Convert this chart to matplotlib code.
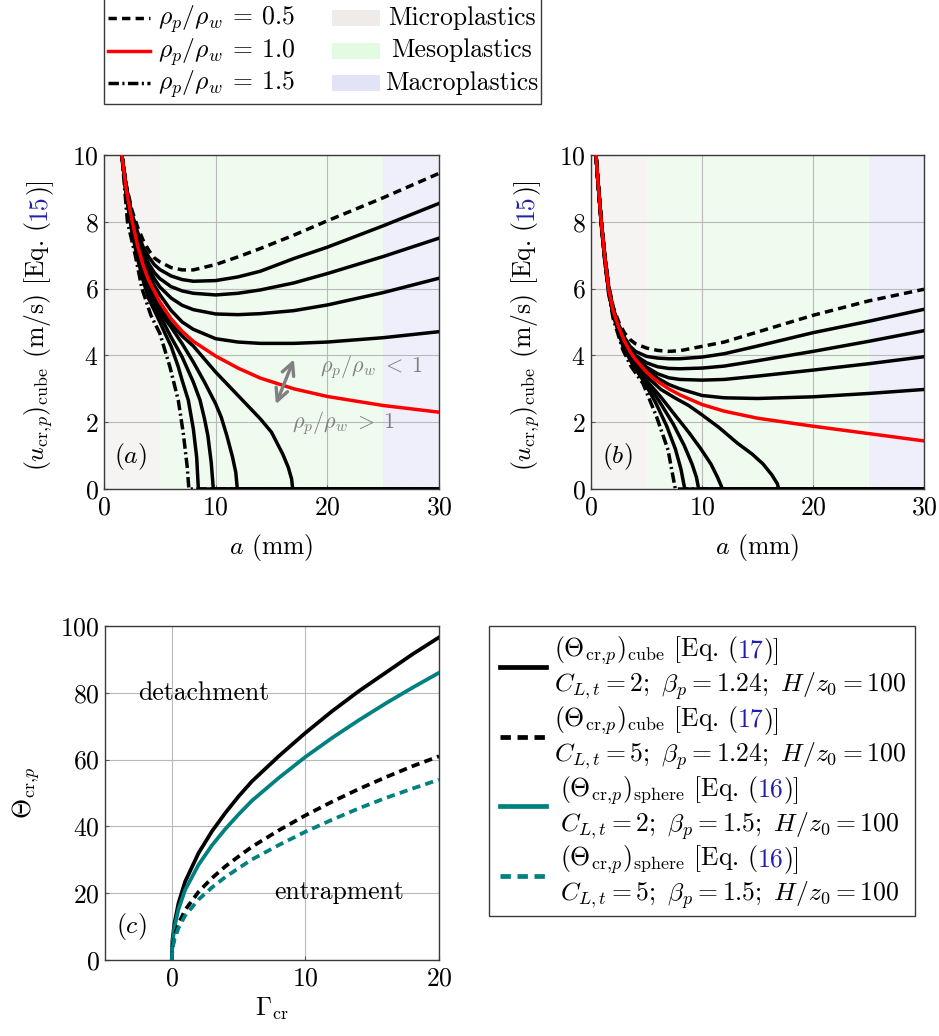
import matplotlib
matplotlib.use("Agg")
import matplotlib.pyplot as plt
from matplotlib.lines import Line2D
from matplotlib.patches import Rectangle

plt.rcParams.update({
    "font.family": "serif",
    "font.serif": ["cmr10"],
    "mathtext.fontset": "cm",
    "axes.formatter.use_mathtext": True,
    "axes.unicode_minus": False,
})

# ---------------------------------------------------------------- data
# (a) cube, beta_p = 1.24 : curves for rho_p/rho_w <= 1 on a shared abscissa
A_UP_A = [1.6, 2, 2.5, 3, 3.5, 4, 4.5, 5, 6, 7, 8, 10, 12, 14, 17, 20, 25, 30]
U_A_05 = [10, 9.1, 8.35, 7.85, 7.45, 7.15, 6.92, 6.8, 6.63, 6.56, 6.56, 6.72, 6.95, 7.2, 7.6, 8.03, 8.72, 9.45]
U_A_06 = [10, 9.05, 8.25, 7.7, 7.25, 6.95, 6.72, 6.57, 6.38, 6.27, 6.22, 6.24, 6.35, 6.52, 6.9, 7.24, 7.88, 8.55]
U_A_07 = [10, 9.0, 8.2, 7.6, 7.1, 6.75, 6.48, 6.3, 6.06, 5.93, 5.86, 5.81, 5.86, 5.96, 6.17, 6.45, 6.96, 7.51]
U_A_08 = [10, 9.0, 8.15, 7.5, 7.0, 6.6, 6.3, 6.05, 5.72, 5.5, 5.37, 5.24, 5.22, 5.25, 5.34, 5.51, 5.88, 6.31]
U_A_09 = [10, 9.0, 8.1, 7.4, 6.9, 6.45, 6.1, 5.82, 5.35, 5.0, 4.78, 4.5, 4.4, 4.36, 4.36, 4.4, 4.53, 4.71]
U_A_10 = [10, 8.95, 8.05, 7.3, 6.7, 6.25, 5.93, 5.6, 5.1, 4.72, 4.42, 3.98, 3.62, 3.32, 3.0, 2.77, 2.5, 2.3]
# (a) rho_p/rho_w > 1 : each curve drops to zero and stays there
A_A_11 = [1.6, 2, 2.5, 3, 3.5, 4, 5, 6, 7, 8, 10, 12, 14, 15, 16, 16.5, 16.8, 16.9, 30]
U_A_11 = [10, 8.9, 8.0, 7.2, 6.6, 6.1, 5.45, 4.95, 4.58, 4.28, 3.5, 2.8, 2.1, 1.7, 1.05, 0.65, 0.3, 0, 0]
A_A_12 = [1.6, 2, 2.5, 3, 3.5, 4, 5, 6, 7, 8, 9, 10, 10.5, 11, 11.5, 11.8, 11.94, 30]
U_A_12 = [10, 8.85, 7.9, 7.1, 6.5, 5.95, 5.3, 4.85, 4.35, 3.8, 3.2, 2.55, 2.15, 1.6, 0.97, 0.5, 0, 0]
A_A_13 = [1.6, 2, 2.5, 3, 3.5, 4, 5, 6, 7, 8, 8.6, 9, 9.3, 9.6, 9.79, 30]
U_A_13 = [10, 8.8, 7.8, 7.0, 6.35, 5.85, 5.2, 4.55, 3.95, 3.2, 2.66, 2.1, 1.6, 0.8, 0, 0]
A_A_14 = [1.6, 2, 2.5, 3, 3.5, 4, 5, 5.5, 6, 6.65, 7, 7.55, 8, 8.3, 8.45, 30]
U_A_14 = [10, 8.75, 7.7, 6.9, 6.25, 5.7, 5.0, 4.63, 4.28, 3.66, 3.25, 2.66, 1.8, 0.95, 0, 0]
A_A_15 = [1.6, 2.1, 2.8, 3.4, 4.2, 5.0, 5.9, 6.65, 7.1, 7.45, 7.6, 30]
U_A_15 = [10, 8, 7, 6, 5.2, 4.66, 3.66, 2.66, 1.67, 0.67, 0, 0]

# (b) second parameter set
A_UP_B = [0.45, 0.6, 0.93, 1.23, 1.59, 2, 2.5, 3, 3.5, 4, 5, 6, 7, 8, 10, 12, 15, 20, 25, 30]
U_B_05 = [10, 9.35, 8.05, 7.05, 6.1, 5.45, 5.0, 4.68, 4.48, 4.35, 4.22, 4.15, 4.12, 4.14, 4.27, 4.4, 4.7, 5.2, 5.63, 5.98]
U_B_06 = [10, 9.33, 8.02, 7.02, 6.05, 5.4, 4.92, 4.55, 4.28, 4.12, 3.97, 3.92, 3.9, 3.9, 3.95, 4.05, 4.28, 4.68, 5.02, 5.38]
U_B_07 = [10, 9.32, 8.0, 7.0, 6.02, 5.37, 4.88, 4.5, 4.2, 4.0, 3.78, 3.66, 3.61, 3.6, 3.62, 3.68, 3.84, 4.12, 4.42, 4.74]
U_B_08 = [10, 9.31, 7.99, 6.99, 6.0, 5.35, 4.86, 4.47, 4.16, 3.94, 3.65, 3.45, 3.33, 3.28, 3.26, 3.28, 3.38, 3.56, 3.75, 3.96]
U_B_09 = [10, 9.31, 7.98, 6.98, 5.99, 5.34, 4.85, 4.46, 4.14, 3.92, 3.58, 3.32, 3.13, 3.0, 2.8, 2.73, 2.71, 2.76, 2.86, 2.98]
U_B_10 = [10, 9.3, 7.97, 6.98, 5.98, 5.33, 4.84, 4.44, 4.12, 3.88, 3.5, 3.22, 3.0, 2.82, 2.53, 2.33, 2.12, 1.88, 1.66, 1.44]
A_B_11 = [0.45, 0.6, 0.93, 1.23, 1.59, 2, 2.9, 3.9, 5, 6.3, 7.6, 8.8, 10, 11.5, 13.2, 14.5, 15.5, 16.3, 16.8, 16.9, 30]
U_B_11 = [10, 9.3, 7.96, 6.96, 5.96, 5.3, 4.4, 3.82, 3.38, 2.98, 2.72, 2.5, 2.22, 1.85, 1.37, 1.05, 0.75, 0.42, 0.15, 0, 0]
A_B_12 = [0.45, 0.6, 0.93, 1.23, 1.59, 2, 2.9, 3.9, 5, 6.3, 7.6, 8.8, 9.9, 10.8, 11.4, 11.85, 30]
U_B_12 = [10, 9.3, 7.95, 6.94, 5.94, 5.28, 4.35, 3.76, 3.25, 2.75, 2.2, 1.7, 1.2, 0.75, 0.35, 0, 0]
A_B_13 = [0.45, 0.6, 0.93, 1.23, 1.59, 2, 2.9, 3.9, 5, 6.2, 7.4, 8.4, 9.1, 9.5, 9.7, 30]
U_B_13 = [10, 9.3, 7.94, 6.92, 5.92, 5.25, 4.3, 3.72, 3.2, 2.6, 1.95, 1.3, 0.75, 0.35, 0, 0]
A_B_14 = [0.45, 0.6, 0.93, 1.23, 1.59, 2, 2.9, 3.8, 4.8, 5.8, 6.8, 7.6, 8.1, 8.45, 30]
U_B_14 = [10, 9.3, 7.92, 6.9, 5.9, 5.2, 4.25, 3.7, 3.2, 2.6, 1.9, 1.2, 0.6, 0, 0]
A_B_15 = [0.45, 0.6, 0.93, 1.23, 1.59, 2.0, 2.88, 3.63, 4.68, 5.9, 6.94, 7.5, 7.6, 30]
U_B_15 = [10, 9.3, 7.9, 6.85, 5.85, 5.1, 4.16, 3.66, 3.16, 2.17, 1.17, 0.17, 0, 0]

# (c) critical Shields-type parameter versus Gamma_cr
GAMMA = [0, 0.05, 0.2, 0.5, 1, 2, 3, 4, 5, 6, 8, 10, 12, 14, 16, 18, 20]
THETA_CUBE_CL2 = [0, 6, 11, 17, 23.5, 32, 38.5, 44, 49, 53.5, 61, 68, 74.5, 80.5, 86, 91.5, 96.6]
THETA_CUBE_CL5 = [0, 3.8, 7, 10.8, 15, 20.4, 24.5, 28, 31, 33.9, 38.8, 43.3, 47.4, 51.2, 54.7, 58, 61]
THETA_SPHERE_CL2 = [0, 5, 9.8, 15.2, 21, 28.5, 34.3, 39.2, 43.6, 47.7, 54.5, 60.8, 66.5, 71.8, 76.8, 81.5, 86]
THETA_SPHERE_CL5 = [0, 3.4, 6.2, 9.6, 13.3, 18.1, 21.7, 24.8, 27.5, 30.1, 34.4, 38.4, 42, 45.4, 48.5, 51.3, 54]

# size classes (mm)
SIZE_CLASSES = ["Microplastics", "Mesoplastics", "Macroplastics"]
SIZE_BOUNDS = [0, 5, 25, 30]
RATIO_LABELS = ["0.5", "1.0", "1.5"]

# ---------------------------------------------------------------- style
W_PX, H_PX = 939, 1036
FS = 18.5
BLUE = "#1f1fa8"
TEAL = "#008080"
GRAY = "#808080"
SPAN_FILL = ["#f6f4f2", "#f0fbef", "#efeffc"]
SPAN_KEY = ["#eeebe8", "#e3fbe3", "#e3e3f8"]
LW = 2.5
DASH = (2.4, 1.5)
DASHDOT = (3.0, 1.0, 0.6, 1.0)
CRP = r"\mathrm{cr},\!p"

fig = plt.figure(figsize=(W_PX / 100, H_PX / 100), dpi=100)


def fx(px):
    return px / W_PX


def fy(py):
    return 1 - py / H_PX


def add_axes_px(x0, x1, y0, y1):
    return fig.add_axes([fx(x0), fy(y1), fx(x1) - fx(x0), fy(y0) - fy(y1)])


def style_axes(ax):
    for s in ax.spines.values():
        s.set_color("#3a3a3a")
        s.set_linewidth(1.0)
    ax.grid(True, color="#b9b9b9", lw=0.8)
    ax.set_axisbelow(True)
    ax.tick_params(direction="in", length=3, color="#555555", labelsize=FS)
    ax.tick_params(axis="x", pad=5)
    ax.tick_params(axis="y", pad=4)


def piecewise_text(x_px, y_px, pieces, size=FS, rotation=0, center=False):
    """Place differently coloured text pieces one after another on a baseline."""
    r = fig.canvas.get_renderer()
    texts, lengths = [], []
    for s, c in pieces:
        t = fig.text(0, 0, s, color=c, fontsize=size, rotation=rotation,
                     rotation_mode="anchor", ha="left", va="baseline")
        bb = t.get_window_extent(r)
        lengths.append(bb.height if rotation else bb.width)
        texts.append(t)
    pos = -sum(lengths) / 2 if center else 0.0
    for t, L in zip(texts, lengths):
        if rotation:
            t.set_position((fx(x_px), (H_PX - y_px + pos) / H_PX))
        else:
            t.set_position((fx(x_px + pos), fy(y_px)))
        pos += L


def draw_cube_panel(ax, a_up, upper, lower, tag):
    for (lo, hi), col in zip(zip(SIZE_BOUNDS[:-1], SIZE_BOUNDS[1:]), SPAN_FILL):
        ax.axvspan(lo, hi, color=col, lw=0, zorder=0.1)
    n_up = len(upper)
    for i, u in enumerate(upper):
        if i == 0:
            ax.plot(a_up, u, color="k", lw=LW, dashes=DASH, zorder=3)
        elif i == n_up - 1:
            ax.plot(a_up, u, color="red", lw=LW, zorder=4)
        else:
            ax.plot(a_up, u, color="k", lw=LW, zorder=3)
    for j, (a, u) in enumerate(lower):
        if j == len(lower) - 1:
            ax.plot(a, u, color="k", lw=LW, dashes=DASHDOT, zorder=3)
        else:
            ax.plot(a, u, color="k", lw=LW, zorder=3)
    ax.set_xlim(0, 30)
    ax.set_ylim(0, 10)
    ax.set_xticks([0, 10, 20, 30])
    ax.set_yticks([0, 2, 4, 6, 8, 10])
    style_axes(ax)
    ax.text(2.4, 0.97, tag, ha="center", va="center", fontsize=FS, zorder=5)


# ---------------------------------------------------------------- panel (a)
ax_a = add_axes_px(104, 439, 155, 489)
draw_cube_panel(
    ax_a, A_UP_A,
    [U_A_05, U_A_06, U_A_07, U_A_08, U_A_09, U_A_10],
    [(A_A_11, U_A_11), (A_A_12, U_A_12), (A_A_13, U_A_13), (A_A_14, U_A_14), (A_A_15, U_A_15)],
    r"$(a)$",
)
ax_a.annotate("", xy=(17.1, 3.96), xytext=(15.3, 2.46),
              arrowprops=dict(arrowstyle="<->", color=GRAY, lw=2.4, mutation_scale=22),
              zorder=5)
ax_a.text(19.3, 3.66, r"$\rho_p/\rho_w\;<\;1$", color=GRAY, fontsize=16, va="center", ha="left")
ax_a.text(16.8, 1.97, r"$\rho_p/\rho_w\;>\;1$", color=GRAY, fontsize=16, va="center", ha="left")

# ---------------------------------------------------------------- panel (b)
ax_b = add_axes_px(591, 924, 155, 489)
draw_cube_panel(
    ax_b, A_UP_B,
    [U_B_05, U_B_06, U_B_07, U_B_08, U_B_09, U_B_10],
    [(A_B_11, U_B_11), (A_B_12, U_B_12), (A_B_13, U_B_13), (A_B_14, U_B_14), (A_B_15, U_B_15)],
    r"$(b)$",
)

# axis labels of (a) and (b)
ylab_pieces = [(r"$(u_{" + CRP + r"})_{\mathrm{cube}}$ (m/s) [Eq. (", "k"), ("15", BLUE), (")]", "k")]
for base_x, mid_x in ((45, 271), (532, 757)):
    piecewise_text(base_x, 324, ylab_pieces, rotation=90, center=True)
    fig.text(fx(mid_x), fy(554), r"$a$ (mm)", fontsize=FS, ha="center", va="baseline")

# ---------------------------------------------------------------- panel (c)
ax_c = add_axes_px(105, 439, 626, 960)
ax_c.plot(GAMMA, THETA_CUBE_CL2, color="k", lw=2.7, zorder=3)
ax_c.plot(GAMMA, THETA_SPHERE_CL2, color=TEAL, lw=2.7, zorder=3)
ax_c.plot(GAMMA, THETA_CUBE_CL5, color="k", lw=2.7, dashes=(2.2, 1.4), zorder=3)
ax_c.plot(GAMMA, THETA_SPHERE_CL5, color=TEAL, lw=2.7, dashes=(2.2, 1.4), zorder=3)
ax_c.set_xlim(-5, 20)
ax_c.set_ylim(0, 100)
ax_c.set_xticks([0, 10, 20])
ax_c.set_yticks([0, 20, 40, 60, 80, 100])
style_axes(ax_c)
ax_c.text(2.4, 80, "detachment", fontsize=FS, ha="center", va="center")
ax_c.text(12.5, 20.4, "entrapment", fontsize=FS, ha="center", va="center")
ax_c.text(-3.05, 9.9, r"$(c)$", fontsize=FS, ha="center", va="center")
fig.text(fx(272), fy(1016), r"$\Gamma_{\mathrm{cr}}$", fontsize=FS, ha="center", va="baseline")
fig.text(fx(32), fy(793), r"$\Theta_{" + CRP + r"}$", fontsize=FS, ha="center", va="baseline",
         rotation=90, rotation_mode="anchor")

# ---------------------------------------------------------------- key for (c)
fig.add_artist(Rectangle((fx(489), fy(916)), fx(915) - fx(489), fy(626) - fy(916),
                         transform=fig.transFigure, facecolor="white",
                         edgecolor="#3a3a3a", lw=1.0))
key_c = [
    ("k", None, "cube", "17", "2", "1.24", 554),
    ("k", (2.2, 1.4), "cube", "17", "5", "1.24", 554),
    (TEAL, None, "sphere", "16", "2", "1.5", 560),
    (TEAL, (2.2, 1.4), "sphere", "16", "5", "1.5", 560),
]
for i, (col, dsh, shape, eq, cl, beta, tx) in enumerate(key_c):
    yc = 667 + i * 69.7
    kw = dict(color=col, lw=3.4, transform=fig.transFigure)
    if dsh is not None:
        kw["dashes"] = dsh
    fig.add_artist(Line2D([fx(500), fx(546)], [fy(yc), fy(yc)], **kw))
    piecewise_text(tx, yc - 10, [(r"$(\Theta_{" + CRP + r"})_{\mathrm{" + shape + r"}}$ [Eq. (", "k"),
                                 (eq, BLUE), (")]", "k")])
    fig.text(fx(tx), fy(yc + 25),
             r"$C_{L,t}=" + cl + r";\ \beta_p=" + beta + r";\ H/z_0=100$",
             fontsize=FS, ha="left", va="baseline")

# ---------------------------------------------------------------- key for (a), (b)
fig.add_artist(Rectangle((fx(104), fy(104)), fx(541) - fx(104), fy(-5) - fy(104),
                         transform=fig.transFigure, facecolor="white",
                         edgecolor="#3a3a3a", lw=1.0))
key_styles = [dict(color="k", dashes=DASH), dict(color="red"), dict(color="k", dashes=DASHDOT)]
for i, (lab, st, cls, kc) in enumerate(zip(RATIO_LABELS, key_styles, SIZE_CLASSES, SPAN_KEY)):
    yc = 18 + i * 32.5
    fig.add_artist(Line2D([fx(108), fx(150)], [fy(yc), fy(yc)], lw=LW,
                          transform=fig.transFigure, **st))
    fig.text(fx(158), fy(yc + 7), r"$\rho_p/\rho_w\:=\:" + lab + "$", fontsize=FS,
             ha="left", va="baseline")
    fig.add_artist(Rectangle((fx(332), fy(yc + 8)), fx(380) - fx(332), fy(yc - 8) - fy(yc + 8),
                             transform=fig.transFigure, facecolor=kc, edgecolor="none"))
    fig.text(fx(462), fy(yc + 7), cls, fontsize=FS, ha="center", va="baseline")

fig.savefig("out.png", dpi=100)
